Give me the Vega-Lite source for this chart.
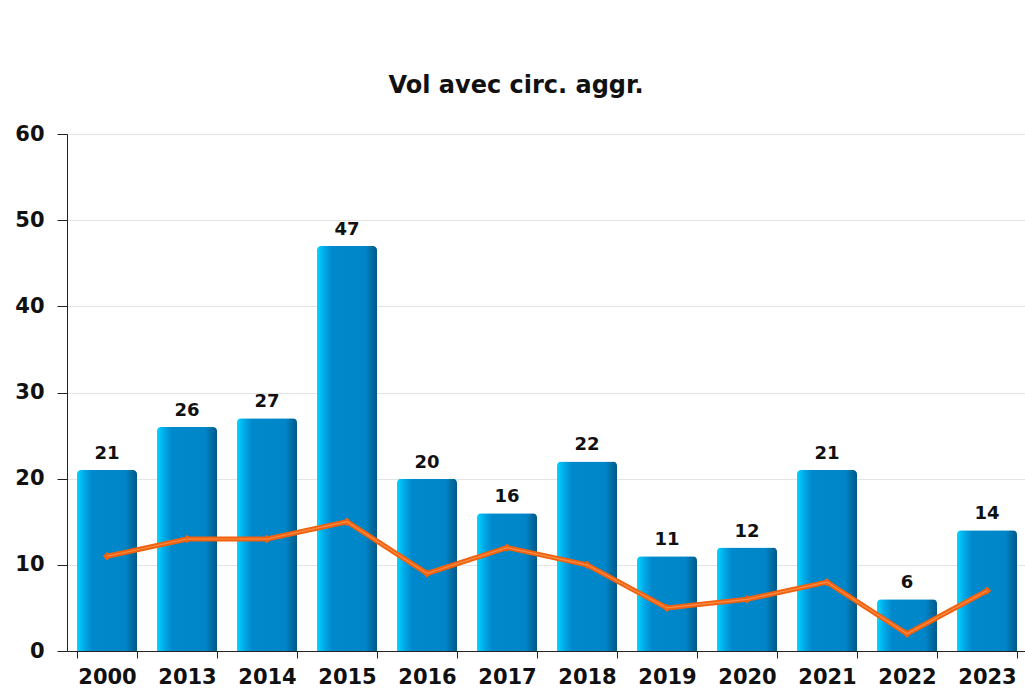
{
  "$schema": "https://vega.github.io/schema/vega-lite/v6.json",
  "width": 960,
  "height": 517,
  "autosize": {"type": "none"},
  "padding": {"left": 67, "top": 134, "right": 0, "bottom": 37},
  "background": "white",
  "title": {
    "text": "Vol avec circ. aggr.",
    "font": "DejaVu Sans",
    "fontSize": 24,
    "fontWeight": "bold",
    "color": "#111111",
    "anchor": "middle",
    "dx": -31,
    "offset": 25
  },
  "config": {
    "view": {"stroke": null},
    "font": "DejaVu Sans"
  },
  "data": {
    "values": [
      {"year": "2000", "count": 21, "trend": 11},
      {"year": "2013", "count": 26, "trend": 13},
      {"year": "2014", "count": 27, "trend": 13},
      {"year": "2015", "count": 47, "trend": 15},
      {"year": "2016", "count": 20, "trend": 9},
      {"year": "2017", "count": 16, "trend": 12},
      {"year": "2018", "count": 22, "trend": 10},
      {"year": "2019", "count": 11, "trend": 5},
      {"year": "2020", "count": 12, "trend": 6},
      {"year": "2021", "count": 21, "trend": 8},
      {"year": "2022", "count": 6, "trend": 2},
      {"year": "2023", "count": 14, "trend": 7}
    ]
  },
  "encoding": {
    "x": {
      "field": "year",
      "type": "ordinal",
      "sort": null,
      "scale": {"paddingInner": 0.25, "paddingOuter": 0.125},
      "axis": {
        "title": null,
        "labelAngle": 0,
        "labelFont": "DejaVu Sans",
        "labelFontSize": 21,
        "labelFontWeight": "bold",
        "labelColor": "#111111",
        "labelPadding": 8,
        "domain": true,
        "domainColor": "#222222",
        "tickColor": "#222222",
        "tickBand": "extent",
        "tickSize": 7,
        "grid": false
      }
    }
  },
  "layer": [
    {
      "mark": {
        "type": "bar",
        "cornerRadiusTopLeft": 4,
        "cornerRadiusTopRight": 4,
        "color": {
          "gradient": "linear",
          "x1": 0, "y1": 0, "x2": 1, "y2": 0,
          "stops": [
            {"offset": 0, "color": "#00D8FF"},
            {"offset": 0.12, "color": "#00A8E8"},
            {"offset": 0.25, "color": "#0088CC"},
            {"offset": 0.8, "color": "#0086C8"},
            {"offset": 1, "color": "#005A88"}
          ]
        }
      },
      "encoding": {
        "y": {
          "field": "count",
          "type": "quantitative",
          "scale": {"domain": [0, 60]},
          "axis": {
            "title": null,
            "values": [0, 10, 20, 30, 40, 50, 60],
            "labelFont": "DejaVu Sans",
            "labelFontSize": 21,
            "labelFontWeight": "bold",
            "labelColor": "#111111",
            "labelPadding": 13,
            "domainColor": "#222222",
            "tickColor": "#222222",
            "tickSize": 10,
            "gridColor": "#e4e4e4",
            "gridWidth": 1
          }
        }
      }
    },
    {
      "mark": {
        "type": "text",
        "baseline": "bottom",
        "dy": -7,
        "font": "DejaVu Sans",
        "fontSize": 18,
        "fontWeight": "bold",
        "color": "#111111"
      },
      "encoding": {
        "y": {"field": "count", "type": "quantitative"},
        "text": {"field": "count", "type": "quantitative"}
      }
    },
    {
      "mark": {
        "type": "line",
        "color": "#F0620F",
        "strokeWidth": 5,
        "point": {"shape": "diamond", "size": 70, "color": "#F0620F", "filled": true}
      },
      "encoding": {
        "y": {"field": "trend", "type": "quantitative"}
      }
    },
    {
      "mark": {
        "type": "line",
        "color": "#FFA060",
        "strokeWidth": 1.2,
        "opacity": 0.7
      },
      "encoding": {
        "y": {"field": "trend", "type": "quantitative"}
      }
    }
  ]
}
